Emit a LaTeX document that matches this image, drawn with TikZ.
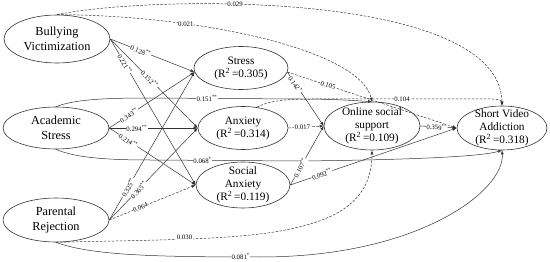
\documentclass[tikz,border=0pt]{standalone}
\usepackage{fontspec}
\setmainfont{Liberation Serif}
\usetikzlibrary{shapes.geometric,arrows.meta}
\begin{document}
\begin{tikzpicture}[x=1pt,y=-1pt,
  ell/.style={ellipse,draw=black!80,line width=0.6pt,inner xsep=0pt,inner ysep=-6pt,align=center,font=\fontsize{11.3}{13}\selectfont},
  bigell/.style={ell,font=\fontsize{12.3}{14.5}\selectfont},
  con/.style={draw=black!80,line width=0.5pt,-{Latex[length=4pt,width=3pt]}},
  dsh/.style={con,dash pattern=on 2.5pt off 1.5pt},
  labh/.style={font=\fontsize{6.8}{8}\selectfont,fill=white,inner sep=0.6pt},
  lab/.style={labh,sloped},
]
\useasboundingbox (0,0) rectangle (550,262);

\node[bigell,minimum width=106pt,minimum height=48pt] (bv) at (57,39) {Bullying\\Victimization};
\node[bigell,minimum width=106pt,minimum height=42pt] (as) at (56,128) {Academic\\Stress};
\node[bigell,minimum width=106pt,minimum height=44pt] (pr) at (56,220) {Parental\\Rejection};
\node[ell,minimum width=94pt,minimum height=43pt] (st) at (241,68) {Stress\\(R\textsuperscript{2}\,=0.305)};
\node[ell,minimum width=90pt,minimum height=43pt] (an) at (243,128) {Anxiety\\(R\textsuperscript{2}\,=0.314)};
\node[ell,minimum width=94pt,minimum height=46pt] (sa) at (243,185) {Social\\Anxiety\\(R\textsuperscript{2}\,=0.119)};
\node[ell,minimum width=96pt,minimum height=48pt] (oss) at (372,126) {Online social\\support\\(R\textsuperscript{2}\,=0.109)};
\node[ell,minimum width=90pt,minimum height=44pt] (sva) at (502,128) {Short Video\\Addiction\\(R\textsuperscript{2}\,=0.318)};

% long curves
\draw[dsh] (bv.north) .. controls (150,-5) and (500,-10) .. node[labh,pos=0.37] (l029) {0.029} (sva.north);
\draw[dsh] (bv.north) .. controls (200,15) and (360,50) .. node[labh,pos=0.3] (l021) {0.021} (oss.north);
\draw[con] (as.north) .. controls (75,99) and (110,98) .. (150,98) -- node[labh,pos=0.38] (l151) {0.151\textsuperscript{**}} (300,99) .. controls (335,99) and (362,101) .. (oss.north);
\draw[dsh] (an.56) .. controls (268,101) and (285,99) .. (312,99) -- node[labh,pos=0.5] (l104) {0.104} (492,99) .. controls (499,99) and (502,101) .. (sva.north);
\draw[con] (as.south) .. controls (75,158) and (110,160) .. (150,160) -- node[labh,pos=0.35] (l068) {0.068\textsuperscript{*}} (300,161) .. controls (400,160) and (480,157) .. (sva.south);
\draw[dsh] (pr.south) .. controls (150,240) and (230,240) .. node[labh,pos=0.5,yshift=2pt] (l030) {0.030} (280,231) .. controls (330,222) and (372,205) .. (oss.south);
\draw[con] (pr.south) .. controls (90,255) and (150,257) .. node[labh,pos=0.94] (l081) {0.081\textsuperscript{*}} (260,257) .. controls (420,257) and (505,190) .. (sva.south);

% predictors to mediators
\draw[con] (bv.east) -- node[lab,pos=0.36] (l128) {0.128\textsuperscript{**}} (st.185);
\draw[con] (bv.east) -- node[lab,pos=0.45] (l152) {0.152\textsuperscript{**}} (an.west);
\draw[con] (bv.east) -- node[lab,pos=0.17] (l221) {0.221\textsuperscript{**}} (sa.west);
\draw[con] (as.east) -- node[lab,pos=0.23] (l343) {0.343\textsuperscript{**}} (st.185);
\draw[con] (as.east) -- node[lab,pos=0.31] (l294) {0.294\textsuperscript{**}} (an.west);
\draw[con] (as.east) -- node[lab,pos=0.22] (l214) {0.214\textsuperscript{**}} (sa.west);
\draw[con] (pr.east) -- node[lab,pos=0.22] (l325) {0.325\textsuperscript{**}} (st.185);
\draw[con] (pr.east) -- node[lab,pos=0.33] (l365) {0.365\textsuperscript{**}} (an.west);
\draw[dsh] (pr.east) -- node[lab,pos=0.36] (l064) {0.064} (sa.west);

% mediators to outcomes
\draw[con] (st.-5) -- node[lab,pos=0.22] (l142) {0.142\textsuperscript{*}} (oss.west);
\draw[dsh] (st.-5) -- node[lab,pos=0.24] (l105) {0.105} (sva.west);
\draw[dsh] (an.east) -- node[lab,pos=0.4] (l017) {0.017} (oss.west);
\draw[con] (sa.east) -- node[lab,pos=0.29] (l107) {0.107\textsuperscript{**}} (oss.west);
\draw[con] (sa.east) -- node[lab,pos=0.19] (l092) {0.092\textsuperscript{**}} (sva.west);
\draw[con] (oss.east) -- node[lab,pos=0.45] (l359) {0.359\textsuperscript{**}} (sva.west);
\end{tikzpicture}
\end{document}
